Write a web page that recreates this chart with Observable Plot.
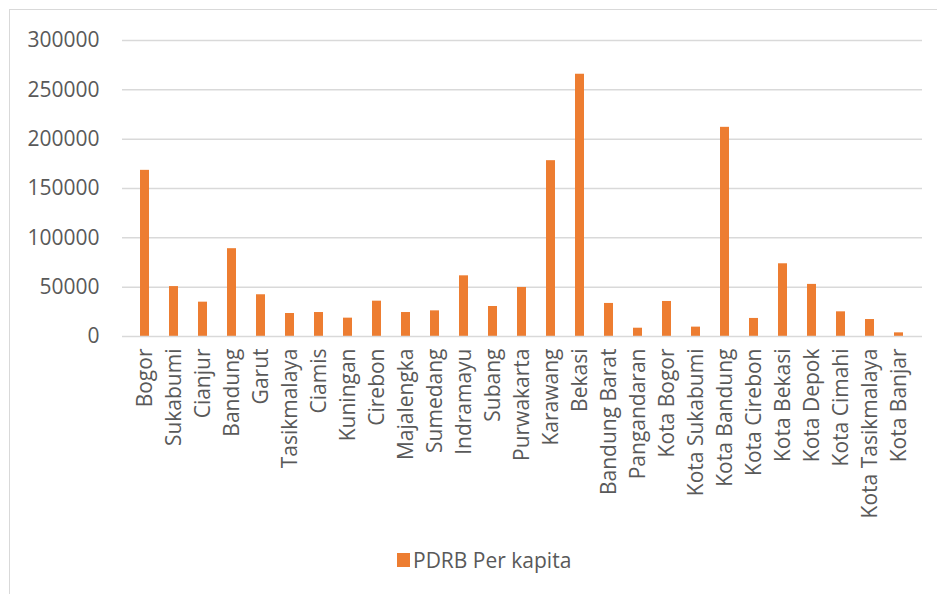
<!DOCTYPE html>
<html><head><meta charset="utf-8">
<script src="https://cdn.jsdelivr.net/npm/d3@7"></script>
<script src="https://cdn.jsdelivr.net/npm/@observablehq/plot@0.6"></script>
<style>
body{margin:0;background:#fff;width:937px;height:594px;overflow:hidden;position:relative;font-family:"Open Sans",sans-serif;}
#frame{position:absolute;left:9px;top:9px;width:940px;height:600px;border-left:1.5px solid #d9d9d9;border-top:1.5px solid #d9d9d9;}
#chart{position:absolute;left:0;top:0;}
#legend{position:absolute;left:397px;top:545px;height:30px;display:flex;align-items:center;font-family:"Open Sans",sans-serif;font-size:21px;color:#595959;}
#legend .sw{width:13px;height:14px;background:#ED7D31;margin-right:3px;}
</style></head>
<body>
<div id="frame"></div>
<div id="chart"></div>
<div id="legend"><div class="sw"></div><span>PDRB Per kapita</span></div>
<script>
const regions = ["Bogor","Sukabumi","Cianjur","Bandung","Garut","Tasikmalaya","Ciamis","Kuningan","Cirebon","Majalengka","Sumedang","Indramayu","Subang","Purwakarta","Karawang","Bekasi","Bandung Barat","Pangandaran","Kota Bogor","Kota Sukabumi","Kota Bandung","Kota Cirebon","Kota Bekasi","Kota Depok","Kota Cimahi","Kota Tasikmalaya","Kota Banjar"];
const pdrb = [168400,50600,34800,89000,42300,23300,24300,18600,35800,24300,26000,61500,30400,49700,178200,265800,33500,8400,35500,9500,212000,18300,73700,52800,25000,17200,3700];
const yTicks = [0,50000,100000,150000,200000,250000,300000];
const data = regions.map((r,i)=>({region:r, value:pdrb[i]}));

const chart = Plot.plot({
  width:937, height:540,
  marginLeft:122, marginRight:15, marginTop:40, marginBottom:204,
  style:{fontFamily:"Open Sans, sans-serif", fontSize:"21px", color:"#595959", background:"transparent"},
  x:{domain:regions, paddingInner:0.685, paddingOuter:0.3425, label:null, tickSize:0, tickRotate:-90, tickPadding:12},
  y:{domain:[0,300000], ticks:yTicks, label:null, tickSize:0, tickPadding:23, tickFormat:d=>String(d)},
  marks:[
    Plot.ruleY(yTicks.filter(d=>d>0), {stroke:"#d9d9d9", strokeWidth:1.5}),
    Plot.barY(data, {x:"region", y:"value", fill:"#ED7D31"}),
    Plot.ruleY([0], {stroke:"#d9d9d9", strokeWidth:1.5})
  ]
});
document.getElementById("chart").appendChild(chart);
</script>
</body></html>
